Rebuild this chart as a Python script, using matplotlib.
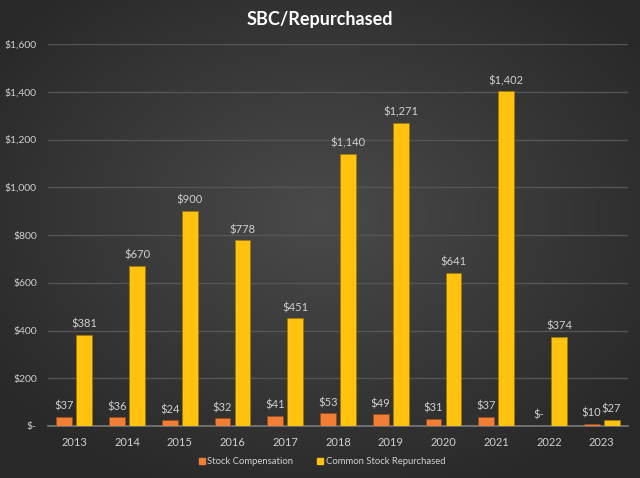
import matplotlib
matplotlib.use("Agg")
import matplotlib.pyplot as plt
import numpy as np
from matplotlib.patches import Patch

years = ["2013", "2014", "2015", "2016", "2017", "2018", "2019", "2020", "2021", "2022", "2023"]
stock_comp = [37, 36, 24, 32, 41, 53, 49, 31, 37, 0, 10]
repurchased = [381, 670, 900, 778, 451, 1140, 1271, 641, 1402, 374, 27]
yticks = [0, 200, 400, 600, 800, 1000, 1200, 1400, 1600]

plt.rcParams['font.family'] = ['Lato', 'DejaVu Sans']
W, H = 640, 478
fig = plt.figure(figsize=(W / 100, H / 100), dpi=100)

# radial gradient background
bg = fig.add_axes([0, 0, 1, 1], zorder=-10)
yy, xx = np.mgrid[0:H, 0:W]
r = np.sqrt(((xx - W * 0.5) / (W * 0.6)) ** 2 + ((yy - H * 0.45) / (H * 0.6)) ** 2)
r = np.clip(r, 0, 1)
c_in = np.array([0x4a, 0x4a, 0x4a]) / 255
c_out = np.array([0x2a, 0x2a, 0x2a]) / 255
img = c_in[None, None, :] * (1 - r[..., None]) + c_out[None, None, :] * r[..., None]
bg.imshow(img, aspect='auto', extent=[0, 1, 0, 1])
bg.axis('off')

ax = fig.add_axes([48 / W, 1 - 426 / H, (628 - 48) / W, (426 - 44) / H])
ax.patch.set_alpha(0)
x = np.arange(len(years))
w = 0.30
off = 0.19
txt = '#d0d0d0'
ax.bar(x - off, stock_comp, w, color='#F07F35', edgecolor='#9c4a15', linewidth=0.5, zorder=3)
ax.bar(x + off, repurchased, w, color='#FFC20E', edgecolor='#a07800', linewidth=0.5, zorder=3)

def fmt(v):
    return "$-" if v == 0 else "${:,}".format(v)

for i, v in enumerate(stock_comp):
    ax.text(x[i] - off, v + 22, fmt(v), ha='center', va='bottom', color=txt, fontsize=8)
for i, v in enumerate(repurchased):
    ax.text(x[i] + off, v + 22, fmt(v), ha='center', va='bottom', color=txt, fontsize=8)

ax.set_xlim(-0.5, len(years) - 0.5)
ax.set_ylim(0, 1600)
ax.set_yticks(yticks)
ax.set_yticklabels([fmt(v) for v in yticks], color=txt, fontsize=7.5)
ax.set_xticks(x)
ax.set_xticklabels(years, color=txt, fontsize=8)
ax.tick_params(length=0, pad=8)
ax.tick_params(axis='x', pad=8)
ax.grid(axis='y', color='#555555', linewidth=1, zorder=0)
for s in ['top', 'right', 'left']:
    ax.spines[s].set_visible(False)
ax.spines['bottom'].set_color('#7a7a7a')
ax.spines['bottom'].set_linewidth(1.2)

fig.text(0.5, 1 - 20 / H, "SBC/Repurchased", ha='center', va='center', color='white',
         fontsize=13, fontweight='bold')

handles = [Patch(color='#F07F35', label='Stock Compensation'),
           Patch(color='#FFC20E', label='Common Stock Repurchased')]
leg = fig.legend(handles=handles, loc='center', bbox_to_anchor=(322 / W, 1 - 462 / H), ncol=2,
                 frameon=False, fontsize=6.8, labelcolor=txt, handlelength=0.6, handleheight=0.6,
                 columnspacing=2.5, handletextpad=0.3)

fig.savefig("out.png", dpi=100)
